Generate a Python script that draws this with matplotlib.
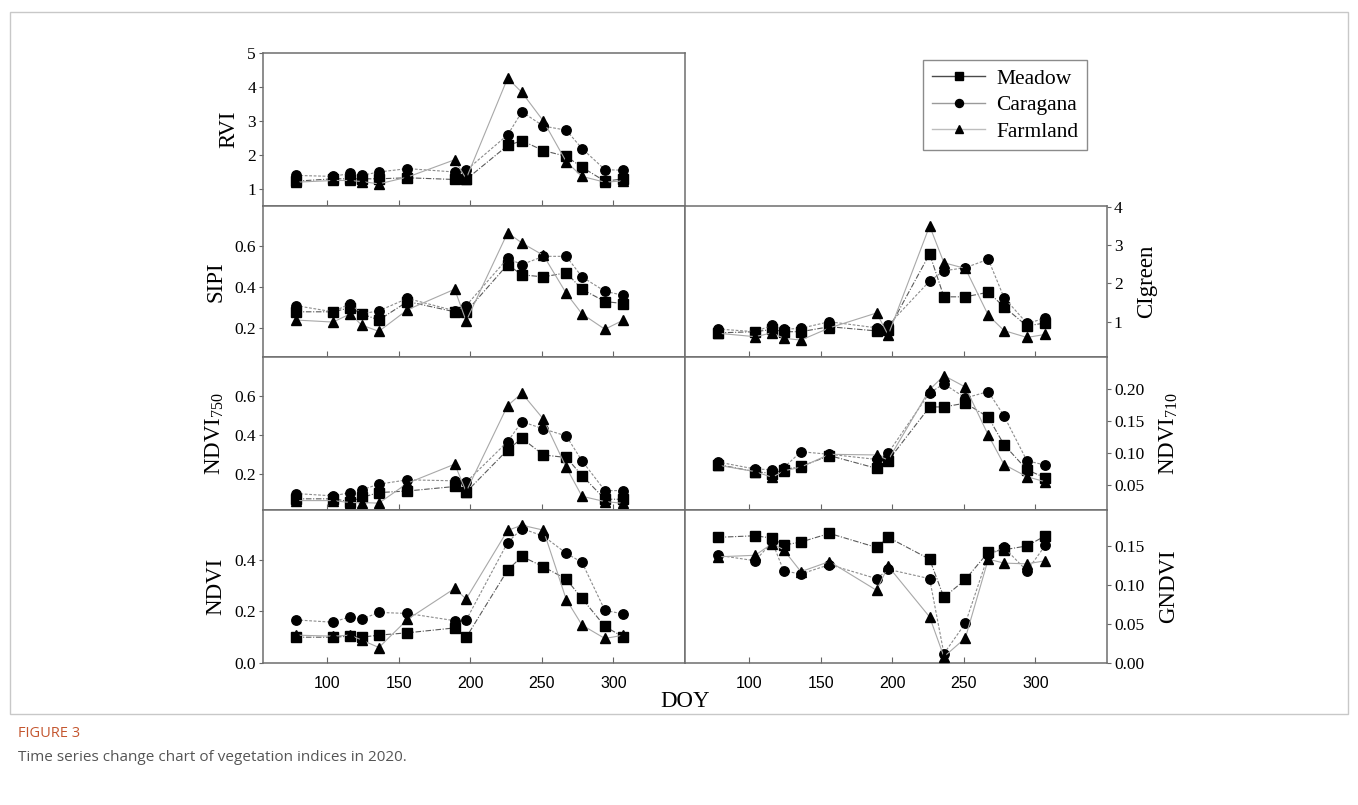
import matplotlib
matplotlib.use("Agg")
import matplotlib.pyplot as plt
from matplotlib.patches import Rectangle
from matplotlib.lines import Line2D

plt.rcParams["mathtext.fontset"] = "custom"
plt.rcParams["mathtext.rm"] = "Liberation Serif"
plt.rcParams["mathtext.it"] = "Liberation Serif:italic"
plt.rcParams["mathtext.bf"] = "Liberation Serif:bold"

doy = [78, 104, 116, 124, 136, 156, 189, 197, 226, 236, 251, 267, 278, 294, 307]
series_names = ["Meadow", "Caragana", "Farmland"]

rvi_meadow = [1.23, 1.30, 1.30, 1.30, 1.30, 1.33, 1.28, 1.28, 2.28, 2.42, 2.13, 1.96, 1.64, 1.23, 1.30]
rvi_caragana = [1.40, 1.37, 1.46, 1.40, 1.50, 1.60, 1.50, 1.55, 2.59, 3.27, 2.85, 2.73, 2.19, 1.57, 1.55]
rvi_farmland = [1.20, 1.25, 1.25, 1.22, 1.15, 1.35, 1.86, 1.30, 4.26, 3.84, 3.00, 1.80, 1.37, 1.20, 1.24]

sipi_meadow = [0.28, 0.28, 0.30, 0.27, 0.24, 0.33, 0.28, 0.28, 0.51, 0.46, 0.45, 0.47, 0.39, 0.33, 0.32]
sipi_caragana = [0.31, 0.28, 0.32, 0.27, 0.285, 0.345, 0.285, 0.31, 0.54, 0.51, 0.55, 0.55, 0.45, 0.38, 0.36]
sipi_farmland = [0.24, 0.23, 0.27, 0.215, 0.185, 0.29, 0.39, 0.235, 0.665, 0.615, 0.555, 0.37, 0.27, 0.195, 0.24]

ndvi750_meadow = [0.073, 0.073, 0.059, 0.080, 0.105, 0.113, 0.136, 0.107, 0.323, 0.382, 0.297, 0.284, 0.192, 0.071, 0.071]
ndvi750_caragana = [0.100, 0.088, 0.105, 0.119, 0.148, 0.170, 0.165, 0.158, 0.365, 0.467, 0.430, 0.394, 0.267, 0.115, 0.115]
ndvi750_farmland = [0.064, 0.064, 0.054, 0.054, 0.051, 0.153, 0.250, 0.110, 0.549, 0.612, 0.480, 0.233, 0.086, 0.059, 0.050]

ndvi_meadow = [0.100, 0.100, 0.104, 0.100, 0.108, 0.117, 0.136, 0.099, 0.360, 0.413, 0.373, 0.325, 0.250, 0.142, 0.100]
ndvi_caragana = [0.167, 0.158, 0.180, 0.170, 0.196, 0.192, 0.164, 0.166, 0.467, 0.521, 0.492, 0.425, 0.390, 0.204, 0.190]
ndvi_farmland = [0.108, 0.104, 0.108, 0.089, 0.060, 0.169, 0.289, 0.248, 0.514, 0.534, 0.515, 0.246, 0.147, 0.095, 0.108]

cig_meadow = [0.71, 0.74, 0.80, 0.74, 0.74, 0.87, 0.76, 0.78, 2.77, 1.65, 1.65, 1.77, 1.39, 0.89, 0.97]
cig_caragana = [0.81, 0.74, 0.91, 0.80, 0.83, 1.00, 0.84, 0.91, 2.06, 2.33, 2.41, 2.63, 1.63, 0.96, 1.09]
cig_farmland = [0.70, 0.61, 0.71, 0.57, 0.52, 0.84, 1.23, 0.65, 3.50, 2.54, 2.39, 1.17, 0.77, 0.59, 0.67]

ndvi710_meadow = [0.082, 0.071, 0.068, 0.074, 0.079, 0.096, 0.076, 0.088, 0.172, 0.172, 0.178, 0.156, 0.113, 0.074, 0.061]
ndvi710_caragana = [0.086, 0.075, 0.074, 0.077, 0.102, 0.098, 0.090, 0.100, 0.194, 0.208, 0.186, 0.196, 0.158, 0.088, 0.081]
ndvi710_farmland = [0.081, 0.071, 0.062, 0.072, 0.078, 0.098, 0.097, 0.089, 0.199, 0.221, 0.203, 0.128, 0.082, 0.063, 0.055]

gndvi_meadow = [0.161, 0.163, 0.160, 0.151, 0.155, 0.166, 0.148, 0.161, 0.133, 0.084, 0.107, 0.142, 0.145, 0.150, 0.163]
gndvi_caragana = [0.138, 0.131, 0.155, 0.118, 0.114, 0.126, 0.108, 0.120, 0.108, 0.012, 0.051, 0.138, 0.148, 0.118, 0.151]
gndvi_farmland = [0.136, 0.138, 0.153, 0.145, 0.117, 0.130, 0.093, 0.124, 0.059, 0.008, 0.032, 0.133, 0.128, 0.127, 0.131]

xticks = [100, 150, 200, 250, 300]

W, H = 1358, 805
fig = plt.figure(figsize=(W / 100, H / 100), dpi=100)

serif = ["Liberation Serif", "DejaVu Serif"]
sans = ["Liberation Sans Narrow", "Liberation Sans", "DejaVu Sans"]

styles = [
    dict(marker="s", color="#5a5a5a", ls=(0, (5, 1.5, 1, 1.5)), ms=6.5, legc="#4a4a4a"),
    dict(marker="o", color="#8c8c8c", ls=(0, (2.5, 1.5)), ms=6.8, legc="#9a9a9a"),
    dict(marker="^", color="#a8a8a8", ls="-", ms=7.5, legc="#bdbdbd"),
]


def px_axes(x0, y0, x1, y1):
    return fig.add_axes([x0 / W, 1 - y1 / H, (x1 - x0) / W, (y1 - y0) / H])


def draw(ax, data, ylim, yticks, fmt, ylabel, right=False, bottom=False):
    for vals, st, name in zip(data, styles, series_names):
        ax.plot(doy, vals, marker=st["marker"], color=st["color"], ls=st["ls"],
                lw=0.8, ms=st["ms"], mfc="black", mec="black", label=name, zorder=3)
    ax.set_xlim(55, 350)
    ax.set_ylim(*ylim)
    ax.set_yticks(yticks)
    ax.set_yticklabels([fmt.format(v) for v in yticks], family=serif, fontsize=12.5)
    ax.set_xticks(xticks)
    if bottom:
        ax.set_xticklabels([str(v) for v in xticks], family=sans, fontsize=11.5)
    else:
        ax.set_xticklabels([])
    ax.tick_params(axis="x", direction="in", length=4, color="#666666", pad=9)
    ax.tick_params(axis="y", direction="out", length=3, color="#666666", pad=2)
    for sp in ax.spines.values():
        sp.set_color("#6e6e6e")
        sp.set_linewidth(1.1)
    if right:
        ax.yaxis.tick_right()
        ax.yaxis.set_label_position("right")
        ax.set_ylabel(ylabel, family=serif, fontsize=16.5, rotation=90, labelpad=10)
    else:
        ax.set_ylabel(ylabel, family=serif, fontsize=16.5, labelpad=6)


xl0, xl1, xr1 = 263, 685, 1107
rows = [(53, 206), (206, 357), (357, 510), (510, 663)]

ax = px_axes(xl0, rows[0][0], xl1, rows[0][1])
draw(ax, [rvi_meadow, rvi_caragana, rvi_farmland], (0.5, 5.0), [1, 2, 3, 4, 5], "{:.0f}", "RVI")

ax = px_axes(xl0, rows[1][0], xl1, rows[1][1])
draw(ax, [sipi_meadow, sipi_caragana, sipi_farmland], (0.06, 0.795), [0.2, 0.4, 0.6], "{:.1f}", "SIPI")

ax = px_axes(xl0, rows[2][0], xl1, rows[2][1])
draw(ax, [ndvi750_meadow, ndvi750_caragana, ndvi750_farmland], (0.016, 0.797), [0.2, 0.4, 0.6], "{:.1f}",
     r"NDVI$_{\mathregular{750}}$")

ax = px_axes(xl0, rows[3][0], xl1, rows[3][1])
draw(ax, [ndvi_meadow, ndvi_caragana, ndvi_farmland], (0.0, 0.593), [0.0, 0.2, 0.4], "{:.1f}", "NDVI", bottom=True)

ax = px_axes(xl1, rows[1][0], xr1, rows[1][1])
draw(ax, [cig_meadow, cig_caragana, cig_farmland], (0.08, 4.02), [1, 2, 3, 4], "{:.0f}", "CIgreen", right=True)

ax = px_axes(xl1, rows[2][0], xr1, rows[2][1])
draw(ax, [ndvi710_meadow, ndvi710_caragana, ndvi710_farmland], (0.011, 0.25), [0.05, 0.10, 0.15, 0.20], "{:.2f}",
     r"NDVI$_{\mathregular{710}}$", right=True)

ax = px_axes(xl1, rows[3][0], xr1, rows[3][1])
draw(ax, [gndvi_meadow, gndvi_caragana, gndvi_farmland], (0.0, 0.196), [0.00, 0.05, 0.10, 0.15], "{:.2f}",
     "GNDVI", right=True, bottom=True)

legend_handles = [Line2D([], [], color=st["legc"], lw=1.0, ls="-", marker=st["marker"],
                         ms=st["ms"] * 0.85, mfc="black", mec="black") for st in styles]
leg = fig.legend(legend_handles, series_names, loc="upper left",
                 bbox_to_anchor=(923 / W, 1 - 60 / H), borderaxespad=0.0,
                 prop={"family": serif, "size": 15.5},
                 frameon=True, fancybox=False, edgecolor="#6e6e6e", handlelength=2.5,
                 handletextpad=0.5, borderpad=0.4, labelspacing=0.3)
leg.get_frame().set_linewidth(1.0)

fig.text(685 / W, 1 - 701 / H, "DOY", family=serif, fontsize=16.5, ha="center", va="center")

fig.patches.append(Rectangle((10 / W, 1 - 714 / H), 1338 / W, 702 / H, transform=fig.transFigure,
                             fill=False, edgecolor="#c8c8c8", linewidth=1.0))
fig.text(18 / W, 1 - 733 / H, "FIGURE 3", family=["Open Sans", "DejaVu Sans"], fontsize=10.5,
         color="#c4562f", ha="left", va="center")
fig.text(18 / W, 1 - 757 / H, "Time series change chart of vegetation indices in 2020.",
         family=["Open Sans", "DejaVu Sans"], fontsize=11, color="#555555", ha="left", va="center")

fig.savefig("out.png", dpi=100)
